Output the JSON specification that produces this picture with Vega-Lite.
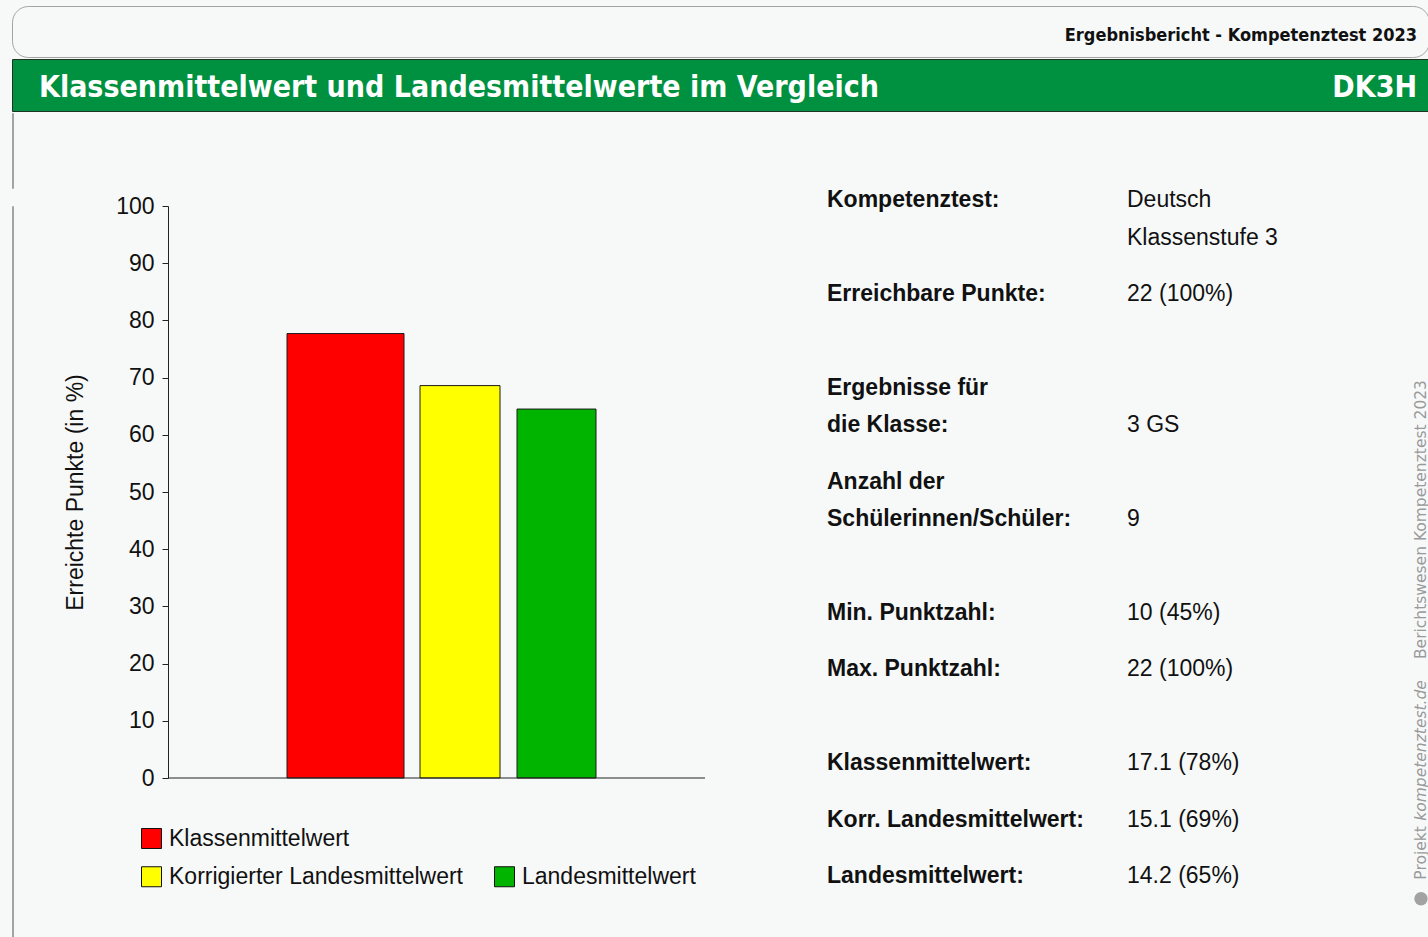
{
  "$schema": "https://vega.github.io/schema/vega-lite/v6.json",
  "background": "#f7f9f9",
  "padding": {"left": 11, "top": 5, "right": 0, "bottom": 0},
  "spacing": 0,
  "config": {
    "view": {"stroke": null},
    "font": "Liberation Sans",
    "axis": {"grid": false},
    "legend": {
      "labelFontSize": 23, "labelFont": "Liberation Sans", "labelColor": "#111111",
      "symbolType": "square", "symbolSize": 400, "symbolStrokeColor": "#111111", "symbolStrokeWidth": 1, "symbolOpacity": 1,
      "labelOffset": 6, "columnPadding": 28, "padding": 0, "labelLimit": 0
    }
  },
  "vconcat": [
    {
      "width": 1417, "height": 51,
      "view": {"fill": "#f7f9f9", "stroke": "#a3a3a3", "cornerRadius": 16},
      "data": {"values": [{"Text": "Ergebnisbericht - Kompetenztest 2023", "Seite": "rechts"}]},
      "mark": {"type": "text", "align": "right", "baseline": "alphabetic", "font": "DejaVu Sans Condensed", "fontWeight": "bold", "fontSize": 18, "color": "#111111", "dy": 9},
      "encoding": {
        "text": {"field": "Text"},
        "x": {"field": "Seite", "type": "nominal", "scale": {"type": "point", "domain": ["links", "rechts"], "padding": 0.01415, "align": 0.6923, "round": false}, "axis": null}
      }
    },
    {
      "width": 1417, "height": 52,
      "view": {"fill": "#009140", "stroke": "#1e3324", "strokeWidth": 1},
      "data": {"values": [
        {"Text": "Klassenmittelwert und Landesmittelwerte im Vergleich", "Seite": "links"},
        {"Text": "DK3H", "Seite": "rechts"}
      ]},
      "layer": [
        {
          "transform": [{"filter": "datum.Seite === 'links'"}],
          "mark": {"type": "text", "align": "left", "baseline": "alphabetic", "font": "DejaVu Sans Condensed", "fontWeight": "bold", "fontSize": 30, "color": "#ffffff", "dy": 12},
          "encoding": {
            "text": {"field": "Text"},
            "x": {"field": "Seite", "type": "nominal", "scale": {"type": "point", "domain": ["links", "rechts"], "padding": 0.01415, "align": 0.6923, "round": false}, "axis": null}
          }
        },
        {
          "transform": [{"filter": "datum.Seite === 'rechts'"}],
          "mark": {"type": "text", "align": "right", "baseline": "alphabetic", "font": "DejaVu Sans Condensed", "fontWeight": "bold", "fontSize": 30, "color": "#ffffff", "dy": 12},
          "encoding": {
            "text": {"field": "Text"},
            "x": {"field": "Seite", "type": "nominal", "scale": {"type": "point", "domain": ["links", "rechts"], "padding": 0.01415, "align": 0.6923, "round": false}, "axis": null}
          }
        }
      ]
    },
    {
      "width": 1, "height": 75,
      "view": {"stroke": "#a3a3a3"},
      "data": {"values": [{"Text": ""}]},
      "mark": {"type": "text"},
      "encoding": {"text": {"field": "Text"}}
    },
    {
      "spacing": 50,
      "hconcat": [
        {
          "width": 1, "height": 731,
          "view": {"stroke": "#a3a3a3"},
          "data": {"values": [{"Text": ""}]},
          "mark": {"type": "text"},
          "encoding": {"text": {"field": "Text"}}
        },
        {
          "width": 537, "height": 572,
          "data": {"values": [
            {"Kennwert": "Klassenmittelwert", "Prozent": 77.7},
            {"Kennwert": "Korrigierter Landesmittelwert", "Prozent": 68.6},
            {"Kennwert": "Landesmittelwert", "Prozent": 64.5}
          ]},
          "layer": [
            {
              "transform": [{"filter": "datum.Kennwert === 'Klassenmittelwert'"}],
              "mark": {"type": "bar", "width": 117, "stroke": "#1a1a1a", "strokeWidth": 1},
              "encoding": {
                "x": {"field": "Kennwert", "type": "nominal",
                  "scale": {"type": "point", "domain": ["Klassenmittelwert", "Korrigierter Landesmittelwert", "Landesmittelwert"], "range": [177.5, 388.5], "padding": 0, "round": false},
                  "axis": null},
                "y": {"field": "Prozent", "type": "quantitative",
                  "scale": {"domain": [0, 100], "nice": false},
                  "axis": {"values": [0, 10, 20, 30, 40, 50, 60, 70, 80, 90, 100], "title": "Erreichte Punkte (in %)",
                    "labelFontSize": 23, "labelFont": "Liberation Sans", "labelColor": "#111111", "labelPadding": 8,
                    "tickSize": 6, "tickColor": "#222222", "domainColor": "#222222", "grid": false,
                    "titleFontSize": 23, "titleFont": "Liberation Sans", "titleFontWeight": "normal", "titleColor": "#111111", "titlePadding": 28}},
                "fill": {"field": "Kennwert", "type": "nominal",
                  "scale": {"domain": ["Klassenmittelwert", "Korrigierter Landesmittelwert", "Landesmittelwert"], "range": ["#ff0000", "#ffff00", "#00b400"]},
                  "legend": {"values": ["Klassenmittelwert"], "title": null, "orient": "none", "legendX": 128, "legendY": 821}}
              }
            },
            {
              "transform": [{"filter": "datum.Kennwert === 'Korrigierter Landesmittelwert'"}],
              "mark": {"type": "bar", "width": 80, "xOffset": 9, "stroke": "#1a1a1a", "strokeWidth": 1},
              "encoding": {
                "x": {"field": "Kennwert", "type": "nominal", "axis": null},
                "y": {"field": "Prozent", "type": "quantitative"},
                "color": {"field": "Kennwert", "type": "nominal",
                  "scale": {"range": ["#ffff00", "#00b400"]},
                  "legend": {"values": ["Korrigierter Landesmittelwert", "Landesmittelwert"], "title": null, "direction": "horizontal", "orient": "none", "legendX": 128, "legendY": 859}}
              }
            },
            {
              "transform": [{"filter": "datum.Kennwert === 'Landesmittelwert'"}],
              "mark": {"type": "bar", "width": 79, "stroke": "#1a1a1a", "strokeWidth": 1},
              "encoding": {
                "x": {"field": "Kennwert", "type": "nominal", "axis": null},
                "y": {"field": "Prozent", "type": "quantitative"},
                "color": {"field": "Kennwert", "type": "nominal",
                  "scale": {"range": ["#ffff00", "#00b400"]},
                  "legend": {"values": ["Korrigierter Landesmittelwert", "Landesmittelwert"], "title": null, "direction": "horizontal", "orient": "none", "legendX": 128, "legendY": 859}}
              }
            },
            {
              "data": {"values": [{"Basis": 0}]},
              "mark": {"type": "rule", "color": "#222222", "strokeWidth": 1},
              "encoding": {
                "y": {"field": "Basis", "type": "quantitative"}
              }
            }
          ]
        },
        {
          "width": 607, "height": 676,
          "data": {"values": [
            {"Zeile": 0, "Merkmal": "Kompetenztest:", "Wert": "Deutsch"},
            {"Zeile": 2, "Merkmal": "", "Wert": "Klassenstufe 3"},
            {"Zeile": 5, "Merkmal": "Erreichbare Punkte:", "Wert": "22 (100%)"},
            {"Zeile": 10, "Merkmal": "Ergebnisse für", "Wert": ""},
            {"Zeile": 12, "Merkmal": "die Klasse:", "Wert": "3 GS"},
            {"Zeile": 15, "Merkmal": "Anzahl der", "Wert": ""},
            {"Zeile": 17, "Merkmal": "Schülerinnen/Schüler:", "Wert": "9"},
            {"Zeile": 22, "Merkmal": "Min. Punktzahl:", "Wert": "10 (45%)"},
            {"Zeile": 25, "Merkmal": "Max. Punktzahl:", "Wert": "22 (100%)"},
            {"Zeile": 30, "Merkmal": "Klassenmittelwert:", "Wert": "17.1 (78%)"},
            {"Zeile": 33, "Merkmal": "Korr. Landesmittelwert:", "Wert": "15.1 (69%)"},
            {"Zeile": 36, "Merkmal": "Landesmittelwert:", "Wert": "14.2 (65%)"}
          ]},
          "layer": [
            {
              "mark": {"type": "text", "align": "left", "baseline": "alphabetic", "fontSize": 23, "fontWeight": "bold", "font": "Liberation Sans", "color": "#111111", "dy": 1},
              "encoding": {
                "text": {"field": "Merkmal"},
                "x": {"datum": "Merkmal", "type": "nominal", "scale": {"type": "point", "domain": ["Merkmal", "Wert"], "padding": 0.51167, "align": 0.23127, "round": false}, "axis": null},
                "y": {"field": "Zeile", "type": "quantitative", "scale": {"domain": [0, 36], "reverse": true, "nice": false, "zero": false}, "axis": null}
              }
            },
            {
              "mark": {"type": "text", "align": "left", "baseline": "alphabetic", "fontSize": 23, "fontWeight": "normal", "font": "Liberation Sans", "color": "#111111", "dy": 1},
              "encoding": {
                "text": {"field": "Wert"},
                "x": {"datum": "Wert", "type": "nominal"},
                "y": {"field": "Zeile", "type": "quantitative"}
              }
            }
          ]
        },
        {
          "width": 16, "height": 731,
          "data": {"values": [
            {"Abschnitt": "Bericht", "Text": "Berichtswesen Kompetenztest 2023", "Stil": "normal"},
            {"Abschnitt": "Projekt", "Text": "Projekt", "Stil": "normal"},
            {"Abschnitt": "Projekt", "Text": "kompetenztest.de", "Stil": "italic"}
          ]},
          "layer": [
            {
              "transform": [{"filter": "datum.Abschnitt === 'Bericht'"}],
              "mark": {"type": "text", "angle": 270, "align": "left", "baseline": "middle", "font": "DejaVu Sans", "fontSize": 15.5, "color": "#9a9a9a"},
              "encoding": {
                "text": {"field": "Text"},
                "y": {"field": "Abschnitt", "type": "nominal", "scale": {"type": "point", "domain": ["Bericht", "Projekt"], "padding": 1, "align": 0.9296, "round": false}, "axis": null}
              }
            },
            {
              "transform": [{"filter": "datum.Abschnitt === 'Projekt' && datum.Stil === 'normal'"}],
              "mark": {"type": "text", "angle": 270, "align": "left", "baseline": "middle", "font": "DejaVu Sans", "fontSize": 15.5, "color": "#9a9a9a", "dx": 23},
              "encoding": {
                "text": {"field": "Text"},
                "y": {"field": "Abschnitt", "type": "nominal"}
              }
            },
            {
              "transform": [{"filter": "datum.Stil === 'italic'"}],
              "mark": {"type": "text", "angle": 270, "align": "left", "baseline": "middle", "font": "DejaVu Sans", "fontSize": 15.5, "fontStyle": "italic", "color": "#9a9a9a", "dx": 82},
              "encoding": {
                "text": {"field": "Text"},
                "y": {"field": "Abschnitt", "type": "nominal"}
              }
            },
            {
              "transform": [{"filter": "datum.Abschnitt === 'Projekt' && datum.Stil === 'normal'"}],
              "mark": {"type": "point", "shape": "circle", "filled": true, "size": 180, "color": "#8c8c8c", "opacity": 0.8, "yOffset": -4},
              "encoding": {
                "y": {"field": "Abschnitt", "type": "nominal"}
              }
            }
          ]
        }
      ]
    }
  ]
}
